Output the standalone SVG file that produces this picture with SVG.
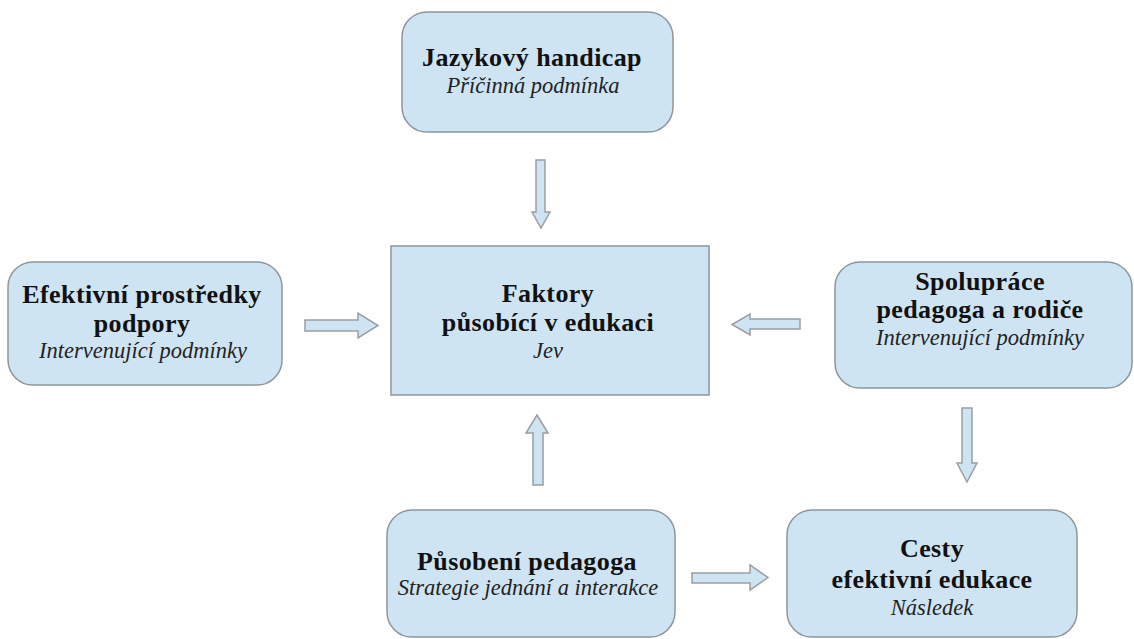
<svg xmlns="http://www.w3.org/2000/svg" width="1134" height="639" viewBox="0 0 1134 639">
<style>
.box{fill:#cfe4f3;stroke:#8f959a;stroke-width:1.5}
.arr{fill:#cfe4f3;stroke:#9a9ea2;stroke-width:1.5;stroke-linejoin:miter}
.t{font-family:"Liberation Serif","Times New Roman",serif;font-weight:bold;font-size:26px;fill:#111;text-anchor:middle;letter-spacing:0.4px}
.s{font-family:"Liberation Serif","Times New Roman",serif;font-style:italic;font-size:22.5px;fill:#222;text-anchor:middle}
</style>
<rect width="1134" height="639" fill="#ffffff"/>
<g id="connectors">
<path class="arr" d="M536,160 H545 V212 H550 L541,228 L532,212 H536 Z"/>
<path class="arr" d="M305,320 H358 V313 L378,325.5 L358,338 V331 H305 Z"/>
<path class="arr" d="M800,319 H750 V314 L732,324.5 L750,335 V329 H800 Z"/>
<path class="arr" d="M533,485 V433 H526 L537,415 L548,433 H543 V485 Z"/>
<path class="arr" d="M692,573 H750 V565 L768,577.5 L750,590 V583 H692 Z"/>
<path class="arr" d="M962,408 H972 V463 H977 L967,482 L957,463 H962 Z"/>
</g>
<g id="node-jazykovy">
<rect class="box" x="402" y="12" width="271" height="120" rx="25"/>
<text class="t" x="532" y="66">Jazykový handicap</text>
<text class="s" x="533" y="93">Příčinná podmínka</text>
</g>
<g id="node-faktory">
<rect class="box" x="391" y="246" width="318" height="149"/>
<text class="t" x="548" y="302">Faktory</text>
<text class="t" x="548" y="331">působící v edukaci</text>
<text class="s" x="548" y="358">Jev</text>
</g>
<g id="node-efektivni">
<rect class="box" x="8" y="262" width="274" height="123" rx="25"/>
<text class="t" x="142" y="303">Efektivní prostředky</text>
<text class="t" x="142" y="332">podpory</text>
<text class="s" x="143" y="358">Intervenující podmínky</text>
</g>
<g id="node-spoluprace">
<rect class="box" x="835" y="262" width="297" height="126" rx="25"/>
<text class="t" x="980" y="290">Spolupráce</text>
<text class="t" x="980" y="318">pedagoga a rodiče</text>
<text class="s" x="980" y="345">Intervenující podmínky</text>
</g>
<g id="node-pusobeni">
<rect class="box" x="387" y="510" width="288" height="127" rx="25"/>
<text class="t" x="527" y="570">Působení pedagoga</text>
<text class="s" x="528" y="595">Strategie jednání a interakce</text>
</g>
<g id="node-cesty">
<rect class="box" x="787" y="510" width="290" height="127" rx="25"/>
<text class="t" x="932" y="557">Cesty</text>
<text class="t" x="932" y="588">efektivní edukace</text>
<text class="s" x="932" y="615">Následek</text>
</g>
</svg>
